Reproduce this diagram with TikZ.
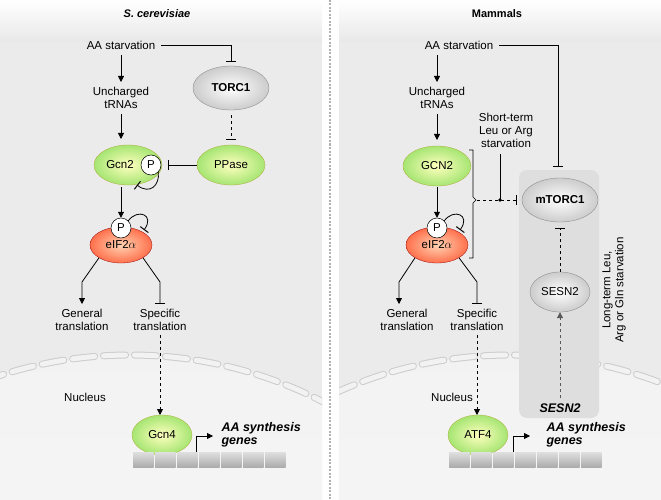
\documentclass[tikz,border=0pt]{standalone}
\usepackage{fontspec}
\setmainfont{Liberation Sans}
\usetikzlibrary{shapes.geometric,arrows.meta,decorations.pathreplacing}
\begin{document}
\begin{tikzpicture}[x=1pt,y=-1pt,font=\fontsize{11.5}{13}\selectfont,
  txt/.style={align=center,inner sep=0pt},
  prot/.style={ellipse,draw=#1,line width=0.3pt,minimum width=68pt,minimum height=40pt,inner sep=0pt},
  green/.style={prot=olive!70,shading=radial,inner color=yellow!25!white,outer color=olive!45!green!45!white},
  red/.style={prot=red!60!black,shading=radial,inner color=red!15!orange!30!white,outer color=red!60!orange!70!white},
  grey/.style={prot=gray,shading=radial,inner color=white,outer color=gray!40},
  pcirc/.style={circle,draw=black,fill=white,minimum size=20pt,inner sep=0pt,line width=0.5pt},
  act/.style={-{Triangle[length=6pt,width=6pt]},line width=0.8pt},
  inh/.style={-{Bar[width=10pt,line width=1pt]},line width=0.8pt},
  env/.style={line width=7pt,draw=gray!40,dash pattern=on 22pt off 9pt,line cap=round},
  envi/.style={line width=5pt,draw=gray!10,dash pattern=on 22pt off 9pt,line cap=round},
  bold/.style={font=\fontsize{11}{13}\selectfont\bfseries},
  bi/.style={font=\fontsize{12.5}{13}\selectfont\bfseries\itshape}]
\useasboundingbox (0,0) rectangle (661,500);
\fill[white] (0,0) rectangle (661,500);
% panels
\foreach \xa/\xb/\cx in {0/322/130,339/661/510}{
  \begin{scope}
    \clip (\xa,0) rectangle (\xb,500);
    \shade[top color=white,bottom color=gray!18] (\xa,0) rectangle (\xb,42);
    \fill[gray!16] (\xa,42) rectangle (\xb,500);
    \shade[top color=gray!10,bottom color=white] (\cx,775) circle (420);
    \draw[env] (\cx,775) circle (420);
    \draw[envi] (\cx,775) circle (420);
  \end{scope}}
\draw[gray!60,line width=1.5pt,dash pattern=on 2pt off 1.5pt] (330,0) -- (330,500);
% ---------- left ----------
\node[bold,font=\fontsize{11}{13}\selectfont\bfseries\itshape] (tl) at (157,14) {S. cerevisiae};
\node[txt] (aa) at (121,45) {AA starvation};
\node[grey,minimum width=76pt,minimum height=44pt] (torc) at (231,88) {\bfseries TORC1};
\node[txt] (tr) at (121,98) {Uncharged\\tRNAs};
\node[green] (gcn2) at (128,165) {Gcn2\hspace*{16pt}};
\node[pcirc] (p1) at (151,165) {P};
\node[green] (pp) at (231,165) {PPase};
\node[red,minimum width=62pt,minimum height=36pt] (eif) at (121,245) {eIF2$\alpha$};
\node[pcirc] (p2) at (121,228) {P};
\node[txt] (gt) at (82,320) {General\\translation};
\node[txt] (st) at (160,320) {Specific\\translation};
\node[txt] (nuc) at (85,397) {Nucleus};
\coordinate (c1) at (231,45);
\draw[line width=0.8pt] (aa.east)++(6,0) -- (c1);
\draw[inh] (c1) -- (231,62);
\draw[act] (121,55) -- (121,82);
\draw[act] (121,114) -- (121,139);
\draw[inh,dashed] (torc.south) ++(0,5) -- (231,140);
\draw[inh,shorten >=7pt] (pp.west) -- (p1.east);
\draw[inh] (p1.south east) .. controls (160,185) and (150,195) .. (137,185);
\draw[act] (121,187) -- (p2.north);
\draw[inh] (p2.north east) .. controls (138,208) and (155,215) .. (144,230);
\draw[act] (eif.south west) -- (82,282) -- (82,304);
\draw[inh] (eif.south east) -- (160,282) -- (160,304);
\draw[act,dashed] (st.south) ++(0,4) -- (160,415);
\node[green,minimum width=60pt] (gcn4) at (162,435) {Gcn4};
\foreach \i in {0,...,6}{\shade[top color=gray!25,bottom color=gray!65] (133+22*\i,452) rectangle (153.5+22*\i,467);}
\draw[act] (196,452) -- (196,436) -- (213,436);
\node[bi,align=left,anchor=west] (g1) at (218,435) {AA synthesis\\genes};
% ---------- right ----------
\node[bold] (tr2) at (497,14) {Mammals};
\fill[gray!26,rounded corners=8pt] (519,170) rectangle (599,418);
\node[txt] (aa2) at (459,45) {AA starvation};
\node[txt] (tr2b) at (437,98) {Uncharged\\tRNAs};
\node[green] (gcn2b) at (437,166) {GCN2};
\node[red,minimum width=62pt,minimum height=36pt] (eif2) at (437,245) {eIF2$\alpha$};
\node[pcirc] (p3) at (437,228) {P};
\node[grey,minimum width=76pt,minimum height=44pt] (mt) at (560,200) {\bfseries mTORC1};
\node[grey,minimum width=60pt] (ses) at (560,292) {SESN2};
\node[txt] (short) at (506,130) {Short-term\\Leu or Arg\\starvation};
\node[txt,rotate=90] (long) at (614,290) {Long-term Leu,\\Arg or Gln starvation};
\node[bi] (sg) at (560,408) {SESN2};
\node[txt] (gt2) at (407,320) {General\\translation};
\node[txt] (st2) at (477,320) {Specific\\translation};
\node[txt] (nuc2) at (452,397) {Nucleus};
\coordinate (c2) at (558,45);
\draw[line width=0.8pt] (aa2.east)++(6,0) -- (c2);
\draw[inh] (c2) -- (558,167);
\draw[act] (437,55) -- (437,82);
\draw[act] (437,114) -- (437,140);
\draw[act] (437,187) -- (p3.north);
\draw[inh] (p3.north east) .. controls (454,208) and (471,215) .. (460,230);
\draw[act] (eif2.south west) -- (399,282) -- (399,304);
\draw[inh] (eif2.south east) -- (477,282) -- (477,304);
\draw[act,dashed] (st2.south) ++(0,4) -- (477,415);
\draw[line width=0.6pt] (469,150) -- (473,150) -- (473,197) -- (476,200) -- (473,203) -- (473,258) -- (469,258);
\coordinate (br) at (477,200);
\coordinate (dt) at (500,200);
\draw[inh,dashed] (br) -- (517,200);
\draw[line width=0.5pt] (500,154) -- (dt);
\fill (dt) circle (1.8);
\draw[inh,dashed] (ses.north) -- (560,228);
\draw[act,dashed,gray!70!black] (560,398) -- (ses.south);
\node[green,minimum width=60pt] (atf) at (478,435) {ATF4};
\foreach \i in {0,...,6}{\shade[top color=gray!25,bottom color=gray!65] (449+22*\i,452) rectangle (469.5+22*\i,467);}
\draw[act] (513,452) -- (513,436) -- (530,436);
\node[bi,align=left,anchor=west] (g2) at (543,435) {AA synthesis\\genes};
\end{tikzpicture}
\end{document}
